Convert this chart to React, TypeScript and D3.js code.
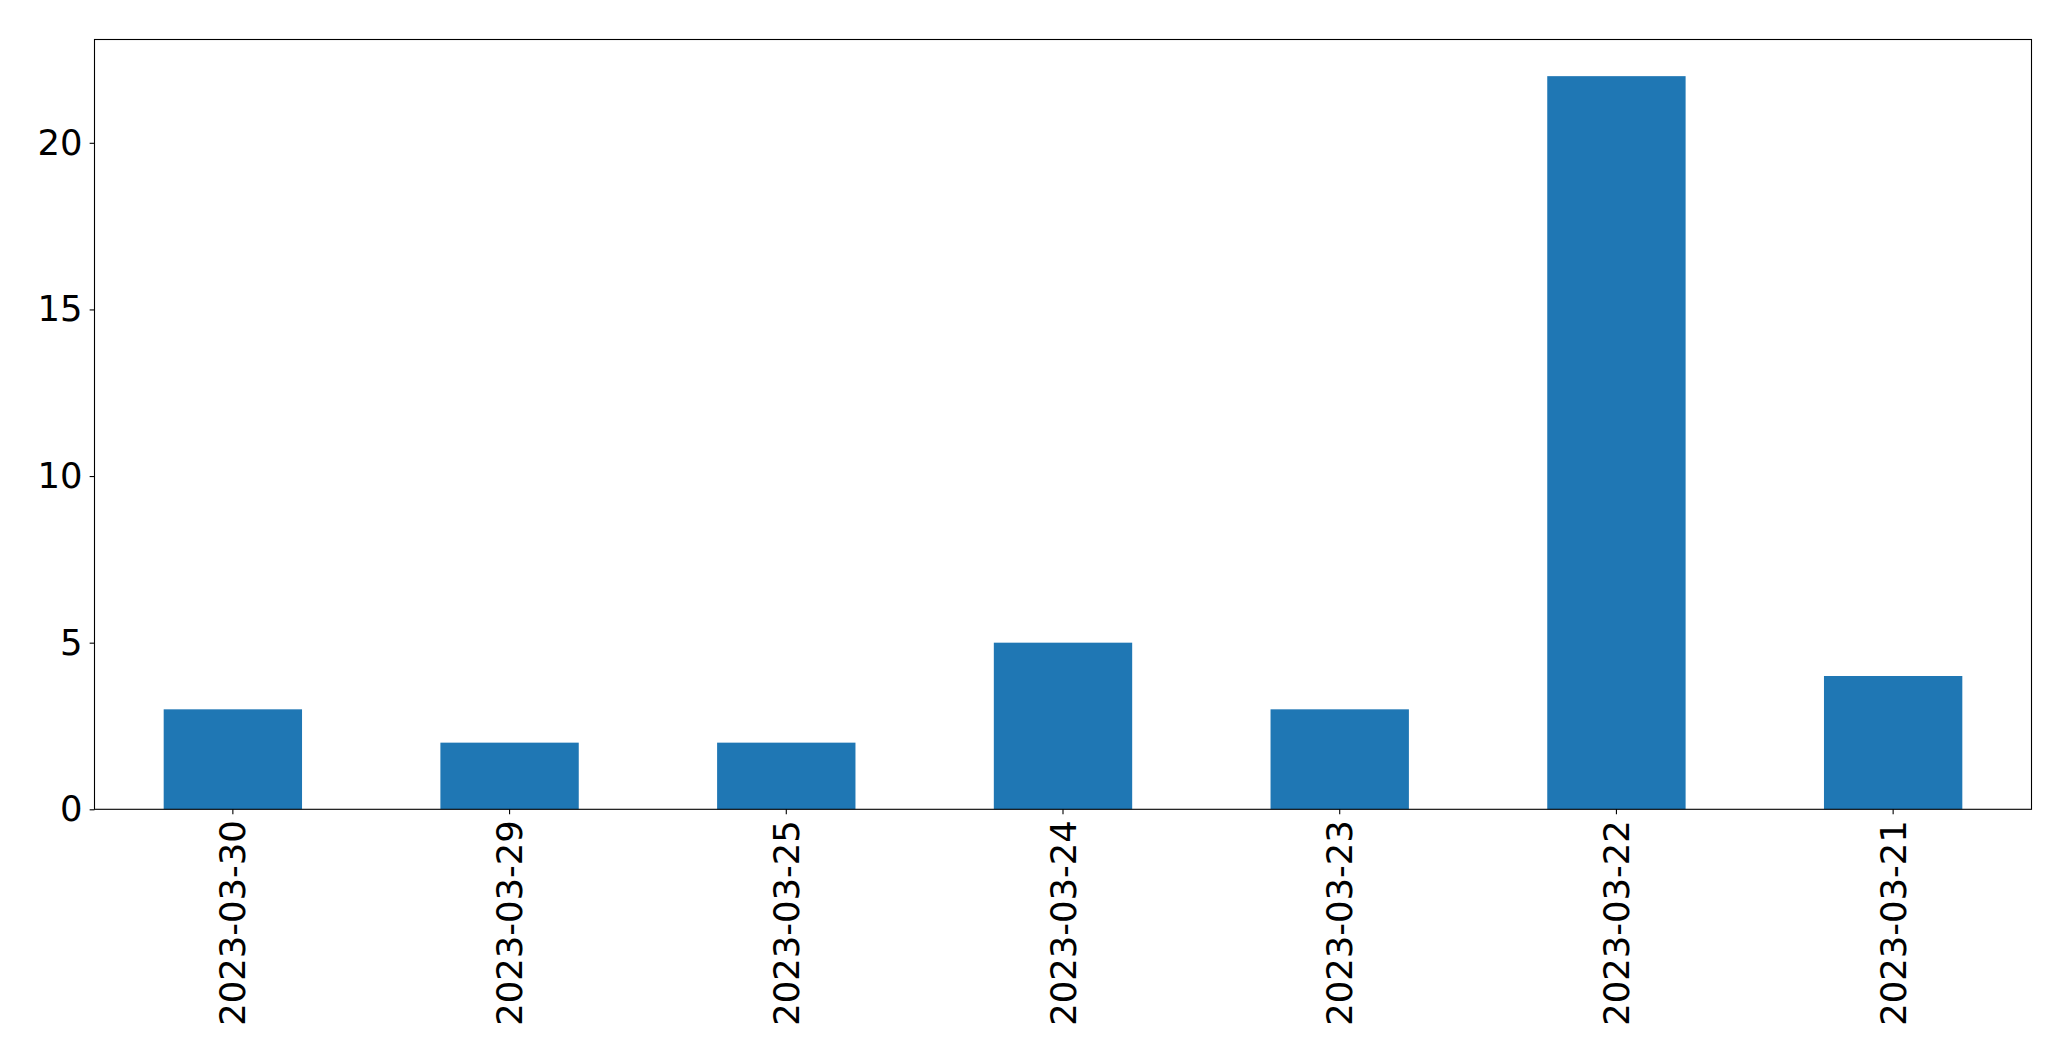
import * as d3 from "d3";
import { useEffect, useRef } from "react";

// ** Chart data **
const dates = ["2023-03-30", "2023-03-29", "2023-03-25", "2023-03-24", "2023-03-23", "2023-03-22", "2023-03-21"];
const counts = [3, 2, 2, 5, 3, 22, 4];
const yTicks = [0, 5, 10, 15, 20];

const App: React.FC = () => {
    const svgRef = useRef<SVGSVGElement | null>(null);

    useEffect(() => {
        document.body.style.margin = "0";

        const svg = d3.select(svgRef.current);
        svg.selectAll("*").remove();

        const width = 2071, height = 1061;
        const left = 94.5, right = 2031.5, top = 39.5, bottom = 809.3;
        const fontSize = 35.4;
        const tickLen = 4.86;

        // ** Scales: matplotlib-style with 5% top margin **
        const x = d3.scaleBand()
            .domain(dates)
            .range([left, right])
            .paddingInner(0.5)
            .paddingOuter(0.25);

        const yMax = d3.max(counts)! * 1.05;
        const y = d3.scaleLinear().domain([0, yMax]).range([bottom, top]);

        svg.append("rect")
            .attr("width", width)
            .attr("height", height)
            .attr("fill", "#ffffff");

        // ** Bars **
        svg.append("g")
            .selectAll("rect")
            .data(dates)
            .join("rect")
            .attr("x", d => x(d)!)
            .attr("width", x.bandwidth())
            .attr("y", (_, i) => y(counts[i]))
            .attr("height", (_, i) => y(0) - y(counts[i]))
            .attr("fill", "#1f77b4");

        // ** Y axis **
        const yAxis = svg.append("g")
            .attr("transform", `translate(${left},0)`)
            .call(d3.axisLeft(y).tickValues(yTicks).tickSize(tickLen).tickPadding(7).tickFormat(d3.format("d")));
        yAxis.select(".domain").remove();
        yAxis.selectAll("line").attr("stroke", "#000").attr("stroke-width", 1.1);
        yAxis.selectAll("text")
            .attr("font-family", "DejaVu Sans")
            .attr("font-size", fontSize)
            .attr("fill", "#000");

        // ** X axis with rotated labels **
        const xAxis = svg.append("g")
            .attr("transform", `translate(0,${bottom})`)
            .call(d3.axisBottom(x).tickSize(tickLen).tickPadding(0));
        xAxis.select(".domain").remove();
        xAxis.selectAll("line").attr("stroke", "#000").attr("stroke-width", 1.1);
        xAxis.selectAll("text")
            .attr("font-family", "DejaVu Sans")
            .attr("font-size", fontSize)
            .attr("fill", "#000")
            .attr("y", 0)
            .attr("dy", null)
            .attr("text-anchor", "end")
            .attr("dominant-baseline", "central")
            .attr("transform", `translate(0,${tickLen + 6}) rotate(-90)`);

        // ** Frame **
        svg.append("rect")
            .attr("x", left)
            .attr("y", top)
            .attr("width", right - left)
            .attr("height", bottom - top)
            .attr("fill", "none")
            .attr("stroke", "#000")
            .attr("stroke-width", 1.1);
    }, []);

    return <svg ref={svgRef} width={2071} height={1061} style={{ display: "block" }} />;
};

export default App;
